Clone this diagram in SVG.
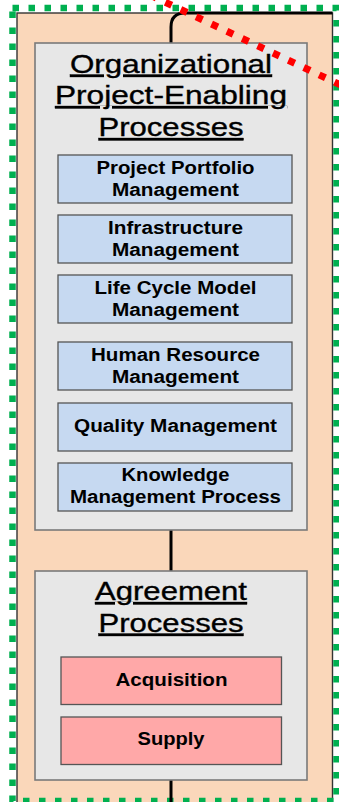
<svg xmlns="http://www.w3.org/2000/svg" width="339" height="802" viewBox="0 0 339 802">
<style>
.title{font-family:"Liberation Sans",Arial,sans-serif;font-size:25px;fill:#000;stroke:#000;stroke-width:0.35;text-anchor:middle;text-decoration:underline}
.lbl{font-family:"Liberation Sans",Arial,sans-serif;font-size:18px;font-weight:bold;fill:#000;text-anchor:middle}
.grp{fill:#e7e7e7;stroke:#7a7a7a;stroke-width:1.6}
.blue{fill:#c6d9f1;stroke:#555;stroke-width:1.3}
.pink{fill:#ffa8a8;stroke:#555;stroke-width:1.3}
.conn{fill:none;stroke:#000;stroke-width:3}
</style>
<rect width="339" height="802" fill="#fff"/>
<g id="container">
<rect x="17" y="13" width="315.5" height="800" fill="#fad7ba" stroke="#333" stroke-width="1.4"/>
</g>
<g id="boundary">
<rect x="12.5" y="8" width="324" height="793" fill="none" stroke="#00b050" stroke-width="6.5" stroke-dasharray="6.5 9.5"/>
</g>
<g id="connectors">
<path class="conn" d="M171,43 V27 Q171,13 185,13 H332.5"/>
<path class="conn" d="M171,530 V571"/>
<path class="conn" d="M171,780 V802"/>
</g>
<g id="org-enabling">
<rect class="grp" x="35" y="43" width="272" height="487"/>
<text class="title" x="171" y="72.5" textLength="202" lengthAdjust="spacingAndGlyphs">Organizational</text>
<text class="title" x="171" y="104" textLength="232" lengthAdjust="spacingAndGlyphs">Project-Enabling</text>
<text class="title" x="171" y="136" textLength="145" lengthAdjust="spacingAndGlyphs">Processes</text>
</g>
<g id="portfolio">
<rect class="blue" x="58" y="155" width="234" height="48"/>
<text class="lbl" x="175.5" y="173.5" textLength="158" lengthAdjust="spacingAndGlyphs">Project Portfolio</text>
<text class="lbl" x="175.5" y="195.5" textLength="127" lengthAdjust="spacingAndGlyphs">Management</text>
</g>
<g id="infrastructure">
<rect class="blue" x="58" y="215" width="234" height="48"/>
<text class="lbl" x="175.5" y="233.5" textLength="135" lengthAdjust="spacingAndGlyphs">Infrastructure</text>
<text class="lbl" x="175.5" y="255.5" textLength="127" lengthAdjust="spacingAndGlyphs">Management</text>
</g>
<g id="lifecycle">
<rect class="blue" x="58" y="275" width="234" height="48"/>
<text class="lbl" x="175.5" y="293.5" textLength="162" lengthAdjust="spacingAndGlyphs">Life Cycle Model</text>
<text class="lbl" x="175.5" y="315.5" textLength="127" lengthAdjust="spacingAndGlyphs">Management</text>
</g>
<g id="human">
<rect class="blue" x="58" y="342" width="234" height="48"/>
<text class="lbl" x="175.5" y="361" textLength="169" lengthAdjust="spacingAndGlyphs">Human Resource</text>
<text class="lbl" x="175.5" y="383" textLength="127" lengthAdjust="spacingAndGlyphs">Management</text>
</g>
<g id="quality">
<rect class="blue" x="58" y="403" width="234" height="48"/>
<text class="lbl" x="175.5" y="432" textLength="203" lengthAdjust="spacingAndGlyphs">Quality Management</text>
</g>
<g id="knowledge">
<rect class="blue" x="58" y="463" width="234" height="48"/>
<text class="lbl" x="175.5" y="481" textLength="108" lengthAdjust="spacingAndGlyphs">Knowledge</text>
<text class="lbl" x="175.5" y="503" textLength="211" lengthAdjust="spacingAndGlyphs">Management Process</text>
</g>
<g id="agreement">
<rect class="grp" x="35" y="571" width="272" height="209"/>
<text class="title" x="171" y="600" textLength="152" lengthAdjust="spacingAndGlyphs">Agreement</text>
<text class="title" x="171" y="631.5" textLength="145" lengthAdjust="spacingAndGlyphs">Processes</text>
</g>
<g id="acquisition">
<rect class="pink" x="61" y="657" width="220.5" height="47.5"/>
<text class="lbl" x="171.5" y="685.5" textLength="112" lengthAdjust="spacingAndGlyphs">Acquisition</text>
</g>
<g id="supply">
<rect class="pink" x="61" y="717" width="220.5" height="47.5"/>
<text class="lbl" x="171" y="745" textLength="67" lengthAdjust="spacingAndGlyphs">Supply</text>
</g>
<g id="boundary-red">
<path d="M150,-5 L345,87" fill="none" stroke="#ff0000" stroke-width="7" stroke-dasharray="7 10"/>
</g>
</svg>
